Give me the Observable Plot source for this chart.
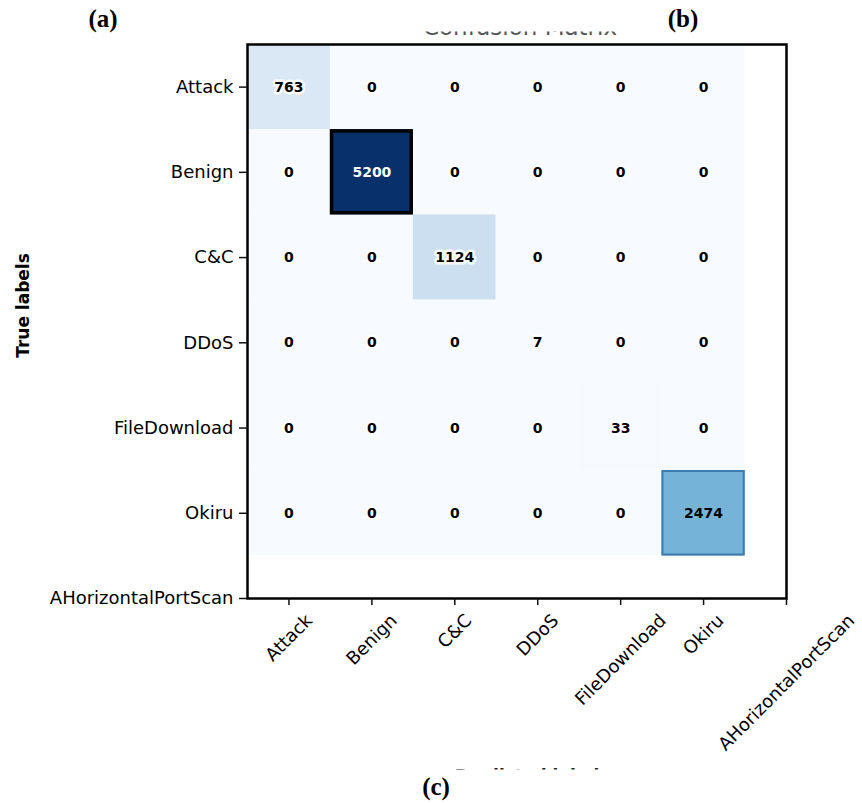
<!DOCTYPE html>
<html>
<head>
<meta charset="utf-8">
<script src="https://cdn.jsdelivr.net/npm/d3@7"></script>
<script src="https://cdn.jsdelivr.net/npm/@observablehq/plot@0.6"></script>
<style>
  body { margin: 0; background: #fff; }
  #wrap { position: relative; width: 862px; height: 803px; overflow: hidden; background: #fff; }
  #wrap svg.plot { position: absolute; left: 0; top: 0; }
  #overlay { position: absolute; left: 0; top: 0; pointer-events: none; }
</style>
</head>
<body>
<div id="wrap"></div>
<script>
// ---- data ----
const rowLabels = ["Attack", "Benign", "C&C", "DDoS", "FileDownload", "Okiru"];
const colLabels = ["Attack", "Benign", "C&C", "DDoS", "FileDownload", "Okiru"];
const tickLabels = ["Attack", "Benign", "C&C", "DDoS", "FileDownload", "Okiru", "AHorizontalPortScan"];
const counts = [
  [763, 0, 0, 0, 0, 0],
  [0, 5200, 0, 0, 0, 0],
  [0, 0, 1124, 0, 0, 0],
  [0, 0, 0, 7, 0, 0],
  [0, 0, 0, 0, 33, 0],
  [0, 0, 0, 0, 0, 2474]
];
const maxCount = 5200;

const cells = [];
counts.forEach((row, i) => row.forEach((v, j) => cells.push({row: i, col: j, value: v, t: rowLabels[i], p: colLabels[j]})));

// measure x tick label widths for centered rotated labels (matplotlib style)
const ctx = document.createElement("canvas").getContext("2d");
const tickFont = 18;
ctx.font = `${tickFont}px "DejaVu Sans"`;
const xLabelMarks = tickLabels.map((lab, i) => {
  const w = ctx.measureText(lab).width;
  return Plot.text([i], {
    x: d => d,
    frameAnchor: "bottom",
    text: d => tickLabels[d],
    rotate: -45,
    textAnchor: "middle",
    lineAnchor: "middle",
    dy: 13 + (w + 17) * Math.SQRT1_2 / 2,
    fontSize: tickFont,
    fill: "#000"
  });
});

const chart = Plot.plot({
  width: 862,
  height: 803,
  marginLeft: 247,
  marginRight: 76,
  marginTop: 44,
  marginBottom: 205,
  style: {fontFamily: "DejaVu Sans", background: "#fff", color: "#000"},
  x: {domain: [-0.5, 6], axis: null},
  y: {domain: [-0.5, 6], reverse: true, axis: null},
  color: {type: "linear", scheme: "blues", domain: [0, maxCount]},
  marks: [
    Plot.rect(cells, {x1: d => d.col - 0.5, x2: d => d.col + 0.5, y1: d => d.row - 0.5, y2: d => d.row + 0.5, fill: "value"}),
    Plot.rect(cells.filter(d => d.value === maxCount), {x1: d => d.col - 0.5 + 0.02, x2: d => d.col + 0.5 - 0.02, y1: d => d.row - 0.5 + 0.02, y2: d => d.row + 0.5 - 0.02, stroke: "#000", strokeWidth: 3.5}),
    Plot.rect(cells.filter(d => d.value > 2000 && d.value < maxCount), {x1: d => d.col - 0.5 + 0.01, x2: d => d.col + 0.5 - 0.01, y1: d => d.row - 0.5 + 0.01, y2: d => d.row + 0.5 - 0.01, stroke: "#3b7db3", strokeWidth: 2}),
    Plot.text(cells.filter(d => d.value < 2000), {x: "col", y: "row", text: d => String(d.value), fontSize: 14, fontWeight: "bold", fill: "#000", stroke: "white", strokeWidth: 5, strokeOpacity: 0.9}),
    Plot.text(cells.filter(d => d.value >= 2000 && d.value < 4000), {x: "col", y: "row", text: d => String(d.value), fontSize: 14, fontWeight: "bold", fill: "#000"}),
    Plot.text(cells.filter(d => d.value >= 4000), {x: "col", y: "row", text: d => String(d.value), fontSize: 14, fontWeight: "bold", fill: "#fff"}),
    Plot.frame({stroke: "#000", strokeWidth: 2.5}),
    Plot.axisY({ticks: d3.range(7), tickFormat: i => tickLabels[i], tickSize: 8, tickPadding: 6, fontSize: tickFont, label: null, stroke: "#111", strokeWidth: 1.5}),
    Plot.axisX({ticks: d3.range(7), tickFormat: () => "", tickSize: 7, label: null, stroke: "#111", strokeWidth: 1.5}),
    ...xLabelMarks,
    Plot.text(["True labels"], {frameAnchor: "left", text: d => d, rotate: -90, textAnchor: "middle", lineAnchor: "middle", dx: -224, dy: -16, fontSize: 17, fontWeight: "bold", fill: "#000"})
  ]
});
chart.classList.add("plot");
document.getElementById("wrap").appendChild(chart);

// ---- overlay: panel letters and the cropped title / x-axis title ----
const ov = d3.select("#wrap").append("svg").attr("id", "overlay").attr("width", 862).attr("height", 803);
const defs = ov.append("defs");
defs.append("clipPath").attr("id", "clipTitle").append("rect").attr("x", 0).attr("y", 31.5).attr("width", 862).attr("height", 4);
defs.append("clipPath").attr("id", "clipXTitle").append("rect").attr("x", 0).attr("y", 765).attr("width", 862).attr("height", 4.5);

ov.append("text").attr("clip-path", "url(#clipTitle)")
  .attr("x", 520).attr("y", 35).attr("text-anchor", "middle")
  .attr("font-family", "DejaVu Sans").attr("font-size", 23).attr("fill", "#555")
  .text("Confusion Matrix");
ov.append("text").attr("clip-path", "url(#clipXTitle)")
  .attr("x", 532).attr("y", 782).attr("text-anchor", "middle")
  .attr("font-family", "DejaVu Sans").attr("font-weight", "bold").attr("font-size", 17).attr("fill", "#222")
  .text("Predicted labels");

const panels = [["(a)", 103, 27], ["(b)", 683, 27], ["(c)", 436, 795]];
panels.forEach(([t, x, y]) => {
  ov.append("text").attr("x", x).attr("y", y).attr("text-anchor", "middle")
    .attr("font-family", "Liberation Serif").attr("font-weight", "bold").attr("font-size", 25).attr("fill", "#000")
    .text(t);
});
</script>
</body>
</html>
